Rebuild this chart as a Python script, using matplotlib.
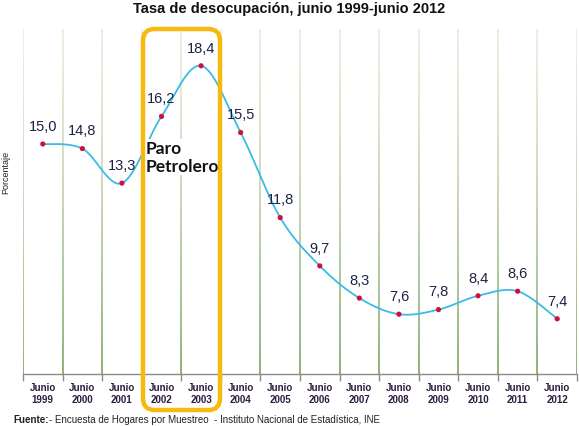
import numpy as np
import matplotlib
matplotlib.use("Agg")
import matplotlib.pyplot as plt
from matplotlib.patches import FancyBboxPatch
from matplotlib.colors import to_rgb

years = ["1999", "2000", "2001", "2002", "2003", "2004", "2005", "2006",
         "2007", "2008", "2009", "2010", "2011", "2012"]
values = [15.0, 14.8, 13.3, 16.2, 18.4, 15.5, 11.8, 9.7, 8.3, 7.6, 7.8, 8.4, 8.6, 7.4]
labels = ["15,0", "14,8", "13,3", "16,2", "18,4", "15,5", "11,8", "9,7",
          "8,3", "7,6", "7,8", "8,4", "8,6", "7,4"]
title = "Tasa de desocupación, junio 1999-junio 2012"
ylabel = "Porcentaje"
annotation = "Paro\nPetrolero"

NARROW = ["Liberation Sans Narrow", "Liberation Sans", "DejaVu Sans"]
W, H = 579, 427
fig = plt.figure(figsize=(W / 100, H / 100), dpi=100)
ax = fig.add_axes([23 / W, 52 / H, 554 / W, 345 / H])
n = len(values)

# gradient vertical gridlines at category boundaries
top_c = np.array(to_rgb("#eeeee2"))
bot_c = np.array(to_rgb("#8fb47c"))
g = np.linspace(0, 1, 200) ** 1.3
grad = (top_c[None, :] + (bot_c - top_c)[None, :] * g[:, None])[:, None, :]
half = 1.0 / 39.6  # about 1 px in data units
for b in np.arange(-0.5, n - 0.4, 1.0):
    ax.imshow(grad, extent=(b - half, b + half, 5, 20), aspect="auto",
              origin="upper", interpolation="bilinear", zorder=1)

ax.set_xlim(-0.5, n - 0.5)
ax.set_ylim(5, 20)

# smooth curve (Excel-style Catmull-Rom / Bezier)
x = np.arange(n, dtype=float)
y = np.array(values)
P = np.column_stack([x, y])
Pp = np.vstack([P[0], P, P[-1]])
curve = []
t = np.linspace(0, 1, 30)[:, None]
for i in range(n - 1):
    p0, p1, p2, p3 = Pp[i], Pp[i + 1], Pp[i + 2], Pp[i + 3]
    c1 = p1 + (p2 - p0) / 6
    c2 = p2 - (p3 - p1) / 6
    seg = ((1 - t) ** 3) * p1 + 3 * ((1 - t) ** 2) * t * c1 + 3 * (1 - t) * t ** 2 * c2 + t ** 3 * p2
    curve.append(seg)
curve = np.vstack(curve)
ax.plot(curve[:, 0], curve[:, 1], color="#3bbbe6", lw=1.3, zorder=3)
ax.scatter(x, y, s=14, color="#d0103a", zorder=4, edgecolors="none")

for xi, yi, lab in zip(x, y, labels):
    ax.annotate(lab, (xi, yi), xytext=(0, 8), textcoords="offset points",
                ha="center", va="bottom", fontsize=10.5, color="#1d2244",
                family=NARROW, zorder=5)

# axes styling
for s in ["top", "right", "left"]:
    ax.spines[s].set_visible(False)
ax.spines["bottom"].set_color("#8c8c8c")
ax.spines["bottom"].set_linewidth(1.0)
ax.set_yticks([])
ax.set_xticks(np.arange(-0.5, n - 0.4, 1.0))
ax.set_xticklabels([])
ax.tick_params(axis="x", length=5, color="#8c8c8c", width=1)

for xi, yr in zip(x, years):
    ax.text(xi, -0.022, "Junio\n" + yr, transform=ax.get_xaxis_transform(),
            ha="center", va="top", fontsize=7, fontweight="bold",
            color="#2a1c40", family=NARROW, linespacing=1.3)

# ylabel
fig.text(6 / W, 1 - 172 / H, ylabel, rotation=90, ha="center", va="center",
         fontsize=6.5, color="#222222", family=NARROW)

# annotation box
box = FancyBboxPatch((143 / W, 1 - 411 / H), (220 - 143) / W, (411 - 30) / H,
                     boxstyle="round,pad=0,rounding_size=0.02",
                     transform=fig.transFigure, fill=False,
                     edgecolor="#f8b90f", linewidth=3.2, zorder=10,
                     mutation_aspect=W / H)
fig.patches.append(box)

fig.text(146 / W, 1 - 158 / H, annotation, ha="left", va="center",
         fontsize=12.5, fontweight="bold", color="#111111",
         family=["Lato", "DejaVu Sans"], linespacing=1.1,
         bbox=dict(facecolor="white", edgecolor="none", pad=1.0), zorder=9)

# title
fig.text(0.5, 1 - 9 / H, title, ha="center", va="center", fontsize=10.5,
         fontweight="bold", color="#111111", family=NARROW)

# footer
fig.text(13 / W, 1 - 420 / H, "Fuente:", ha="left", va="center",
         fontsize=7, fontweight="bold", color="#222222", family=NARROW)
fig.text(49 / W, 1 - 420 / H,
         "- Encuesta de Hogares por Muestreo  - Instituto Nacional de Estadística, INE",
         ha="left", va="center", fontsize=7, color="#222222", family=NARROW)

fig.savefig("out.png", dpi=100, facecolor="white")
